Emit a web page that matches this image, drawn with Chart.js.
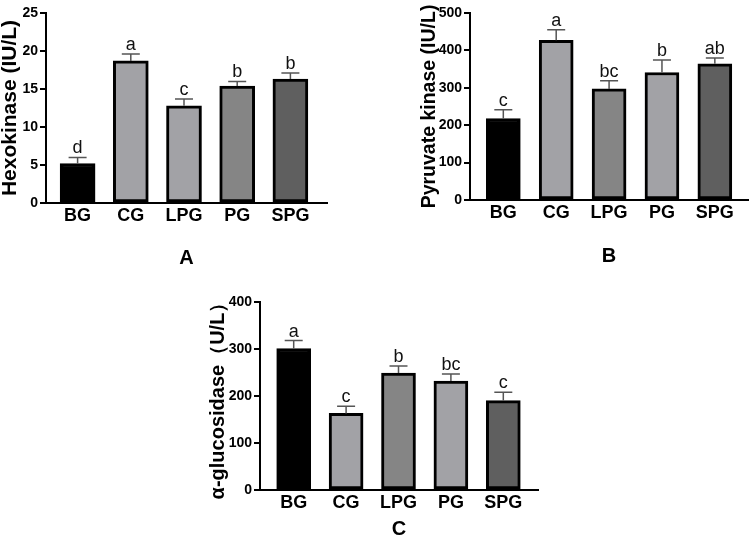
<!DOCTYPE html>
<html>
<head>
<meta charset="utf-8">
<title>Enzyme activity</title>
<script src="https://cdn.jsdelivr.net/npm/chart.js@4.4.1/dist/chart.umd.min.js"></script>
<style>
    body { margin: 0; background: #fff; width: 750px; height: 548px; position: relative; overflow: hidden; }
    canvas { position: absolute; }
</style>
</head>
<body>
<canvas id="chartA" width="330" height="270" style="left:0;top:0"></canvas>
<canvas id="chartB" width="330" height="268" style="left:420px;top:0"></canvas>
<canvas id="chartC" width="332" height="251" style="left:208px;top:290px"></canvas>
<script>
// groups on the x axis
const groups = ["BG", "CG", "LPG", "PG", "SPG"];

// A - hexokinase
const hexoMean = [5.2, 18.7, 12.8, 15.4, 16.3];
const hexoErr = [0.8, 0.9, 0.9, 0.6, 0.8];
const hexoLetters = ["d", "a", "c", "b", "b"];

// B - pyruvate kinase
const pkMean = [218, 427, 297, 341, 364];
const pkErr = [23, 28, 22, 33, 16];
const pkLetters = ["c", "a", "bc", "b", "ab"];

// C - alpha-glucosidase
const agMean = [301, 163, 249, 232, 190];
const agErr = [17, 15, 15, 15, 18];
const agLetters = ["a", "c", "b", "bc", "c"];

Chart.defaults.font.family = '"Liberation Sans", Arial, sans-serif';
Chart.defaults.color = "#000";

// error bars + significance letters on top of each bar
const errorBars = {
    id: "errorBars",
    afterDatasetsDraw(chart, args, opts) {
        const ctx = chart.ctx;
        const yScale = chart.scales.y;
        const bars = chart.getDatasetMeta(0).data;
        ctx.save();
        bars.forEach((bar, i) => {
            const base = yScale.getPixelForValue(opts.means[i]);
            const top = yScale.getPixelForValue(opts.means[i] + opts.errs[i]);
            ctx.strokeStyle = "#555";
            ctx.lineWidth = 1.5;
            ctx.beginPath();
            ctx.moveTo(bar.x, base);
            ctx.lineTo(bar.x, top);
            ctx.moveTo(bar.x - 9, top);
            ctx.lineTo(bar.x + 9, top);
            ctx.stroke();

            ctx.fillStyle = "#111";
            ctx.font = '18px "Liberation Sans", Arial, sans-serif';
            ctx.textAlign = "center";
            ctx.textBaseline = "alphabetic";
            ctx.fillText(opts.letters[i], bar.x, top - 4);
        });
        ctx.restore();
    }
};

function makePanel(id, p) {
    const ctx = document.getElementById(id);
    new Chart(ctx, {
        type: "bar",
        data: {
            datasets: [{
                data: p.means.map((v, i) => ({ x: i, y: v })),
                backgroundColor: p.colors,
                borderColor: "#000",
                borderWidth: 3,
                borderSkipped: false,
                barThickness: p.barWidth
            }]
        },
        options: {
            responsive: false,
            animation: false,
            layout: { padding: { top: p.padTop, right: p.padRight, left: 0, bottom: 0 } },
            plugins: {
                legend: { display: false },
                tooltip: { enabled: false },
                errorBars: { means: p.means, errs: p.errs, letters: p.letters }
            },
            scales: {
                x: {
                    type: "linear",
                    offset: false,
                    min: p.xMin,
                    max: p.xMax,
                    afterFit: (s) => { s.height = p.xHeight; },
                    grid: { display: false, drawTicks: false },
                    border: { display: true, color: "#000", width: 2 },
                    ticks: {
                        stepSize: 1,
                        includeBounds: false,
                        autoSkip: false,
                        maxRotation: 0,
                        padding: 2,
                        color: "#000",
                        font: { size: 18, weight: "bold" },
                        callback: (v) => groups[v] ?? ""
                    },
                    title: {
                        display: true,
                        text: p.panel,
                        color: "#000",
                        font: { size: 20, weight: "bold" },
                        padding: 0
                    }
                },
                y: {
                    min: 0,
                    max: p.yMax,
                    afterFit: (s) => { s.width = p.yWidth; },
                    grid: { drawOnChartArea: false, drawTicks: true, tickLength: 6, color: "#000", lineWidth: 2 },
                    border: { display: true, color: "#000", width: 2 },
                    ticks: {
                        stepSize: p.yStep,
                        padding: 2,
                        color: "#000",
                        font: { size: 14, weight: "bold" }
                    },
                    title: {
                        display: true,
                        text: p.yTitle,
                        color: "#000",
                        font: { size: p.yTitleSize, weight: "bold", lineHeight: 1 },
                        padding: 0
                    }
                }
            }
        },
        plugins: [errorBars]
    });
}

makePanel("chartA", {
    panel: "A",
    yTitle: "Hexokinase (IU/L)", yTitleSize: 21,
    means: hexoMean, errs: hexoErr, letters: hexoLetters,
    colors: ["#000000", "#a2a2a6", "#a2a2a6", "#858585", "#5f5f5f"],
    yMax: 25, yStep: 5,
    xMin: -0.594, xMax: 4.688,
    yWidth: 46, xHeight: 67, padTop: 13, padRight: 3, barWidth: 35
});

makePanel("chartB", {
    panel: "B",
    yTitle: "Pyruvate kinase (IU/L)", yTitleSize: 19.5,
    means: pkMean, errs: pkErr, letters: pkLetters,
    colors: ["#000000", "#a2a2a6", "#858585", "#a2a2a6", "#5f5f5f"],
    yMax: 500, yStep: 100,
    xMin: -0.630, xMax: 4.627,
    yWidth: 50, xHeight: 68, padTop: 13, padRight: 2, barWidth: 34
});

makePanel("chartC", {
    panel: "C",
    yTitle: "α-glucosidase（U/L）", yTitleSize: 20,
    means: agMean, errs: agErr, letters: agLetters,
    colors: ["#000000", "#a2a2a6", "#858585", "#a2a2a6", "#5f5f5f"],
    yMax: 400, yStep: 100,
    xMin: -0.643, xMax: 4.662,
    yWidth: 52, xHeight: 51, padTop: 12, padRight: 2, barWidth: 34
});
</script>
</body>
</html>
